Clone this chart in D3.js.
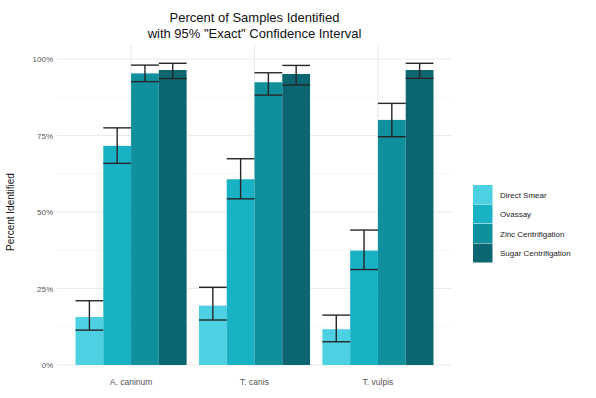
<!DOCTYPE html>
<html>
<head>
<meta charset="utf-8">
<script src="https://cdn.jsdelivr.net/npm/d3@7"></script>
<style>
  html, body { margin: 0; padding: 0; background: #fff; }
  svg { display: block; font-family: "Liberation Sans", Arial, sans-serif; }
</style>
</head>
<body>
<svg id="chart" width="596" height="398"></svg>
<script>
// Species on the x axis and the four detection methods
const species = ["A. caninum", "T. canis", "T. vulpis"];
const methods = ["Direct Smear", "Ovassay", "Zinc Centrifigation", "Sugar Centrifigation"];
const methodColors = ["#4dd0e1", "#19b2c4", "#10909d", "#0b6672"];

// Percent identified per method, in species order
const directSmear = [15.7, 19.4, 11.7];
const ovassay     = [71.6, 60.7, 37.4];
const zincCentrif = [95.3, 92.4, 80.1];
const sugarCentrif = [96.4, 95.1, 96.4];

// 95% exact confidence limits (lower, upper) per method, in species order
const directLo = [11.4, 14.7, 7.6],  directHi = [21.0, 25.4, 16.3];
const ovassayLo = [65.9, 54.3, 31.2], ovassayHi = [77.5, 67.4, 44.1];
const zincLo = [92.6, 88.2, 74.6],   zincHi = [98.0, 95.5, 85.5];
const sugarLo = [93.6, 91.5, 93.7],  sugarHi = [98.6, 97.9, 98.6];

const yTicks = [0, 25, 50, 75, 100];
const yTickLabels = ["0%", "25%", "50%", "75%", "100%"];

const values = [directSmear, ovassay, zincCentrif, sugarCentrif];
const lows = [directLo, ovassayLo, zincLo, sugarLo];
const highs = [directHi, ovassayHi, zincHi, sugarHi];

const rows = [];
methods.forEach((m, mi) => {
  species.forEach((s, si) => {
    rows.push({ species: s, method: m, value: values[mi][si], lo: lows[mi][si], hi: highs[mi][si] });
  });
});

const svg = d3.select("#chart");
const panel = { left: 57, right: 452, top: 44, bottom: 365 };

// Discrete x scale: step between species, bars dodged within 0.9 of a step
const step = (panel.right - panel.left) / (species.length + 0.2);
const x = d3.scaleBand().domain(species)
  .range([panel.left + 0.1 * step, panel.right - 0.1 * step])
  .paddingInner(0).paddingOuter(0);
const groupWidth = x.bandwidth() * 0.9;
const xInner = d3.scaleBand().domain(methods).range([0, groupWidth]);

const y = d3.scaleLinear().domain([0, 100]).range([365, 59]);
const color = d3.scaleOrdinal().domain(methods).range(methodColors);

// Grid: minor lines between major ticks, then major lines
const g = svg.append("g");
const minorY = [12.5, 37.5, 62.5, 87.5];
g.selectAll("line.minor").data(minorY).enter().append("line")
  .attr("x1", panel.left).attr("x2", panel.right)
  .attr("y1", d => y(d)).attr("y2", d => y(d))
  .attr("stroke", "#f2f2f2").attr("stroke-width", 0.6);
g.selectAll("line.majorY").data(yTicks).enter().append("line")
  .attr("x1", panel.left).attr("x2", panel.right)
  .attr("y1", d => y(d)).attr("y2", d => y(d))
  .attr("stroke", "#ebebeb").attr("stroke-width", 1.1);
g.selectAll("line.majorX").data(species).enter().append("line")
  .attr("x1", d => x(d) + x.bandwidth() / 2).attr("x2", d => x(d) + x.bandwidth() / 2)
  .attr("y1", panel.top).attr("y2", panel.bottom)
  .attr("stroke", "#ebebeb").attr("stroke-width", 1.1);

// Bars
const barX = d => x(d.species) + (x.bandwidth() - groupWidth) / 2 + xInner(d.method);
svg.append("g").selectAll("rect").data(rows).enter().append("rect")
  .attr("x", barX)
  .attr("width", xInner.bandwidth())
  .attr("y", d => y(d.value))
  .attr("height", d => y(0) - y(d.value))
  .attr("fill", d => color(d.method));

// Error bars
const eb = svg.append("g").attr("stroke", "#262626").attr("stroke-width", 1.4).attr("fill", "none");
rows.forEach(d => {
  const x0 = barX(d), x1 = x0 + xInner.bandwidth(), xc = (x0 + x1) / 2;
  eb.append("line").attr("x1", xc).attr("x2", xc).attr("y1", y(d.lo)).attr("y2", y(d.hi));
  eb.append("line").attr("x1", x0).attr("x2", x1).attr("y1", y(d.lo)).attr("y2", y(d.lo));
  eb.append("line").attr("x1", x0).attr("x2", x1).attr("y1", y(d.hi)).attr("y2", y(d.hi));
});

// Axes
const yAxis = d3.axisLeft(y).tickValues(yTicks)
  .tickFormat((d, i) => yTickLabels[i]).tickSize(0).tickPadding(4);
const ya = svg.append("g").attr("transform", `translate(${panel.left},0)`).call(yAxis);
ya.select(".domain").remove();
ya.selectAll("text").attr("fill", "#555").attr("font-size", 8).style("font-family", "Liberation Sans, Arial, sans-serif");

const xAxis = d3.axisBottom(x).tickSize(0).tickPadding(14);
const xa = svg.append("g").attr("transform", `translate(0,${panel.bottom})`).call(xAxis);
xa.select(".domain").remove();
xa.selectAll("text").attr("fill", "#555").attr("font-size", 8.5).style("font-family", "Liberation Sans, Arial, sans-serif");

// Axis title
svg.append("text")
  .attr("transform", `translate(14,${(59 + 365) / 2}) rotate(-90)`)
  .attr("text-anchor", "middle").attr("font-size", 10).attr("fill", "#111")
  .text("Percent Identified");

// Title
const cx = (panel.left + panel.right) / 2;
svg.append("text").attr("x", cx).attr("y", 22).attr("text-anchor", "middle")
  .attr("font-size", 13).attr("fill", "#111").text("Percent of Samples Identified");
svg.append("text").attr("x", cx).attr("y", 38).attr("text-anchor", "middle")
  .attr("font-size", 13).attr("fill", "#111").text("with 95% \"Exact\" Confidence Interval");

// Legend
const legend = svg.append("g").attr("transform", "translate(473,185)");
const keyH = 19.5;
methods.forEach((m, i) => {
  legend.append("rect").attr("x", 0).attr("y", i * keyH).attr("width", 19.5).attr("height", keyH - 0.5)
    .attr("fill", color(m));
  legend.append("text").attr("x", 27).attr("y", i * keyH + keyH / 2 + 3)
    .attr("font-size", 8).attr("fill", "#222").text(m);
});
</script>
</body>
</html>
